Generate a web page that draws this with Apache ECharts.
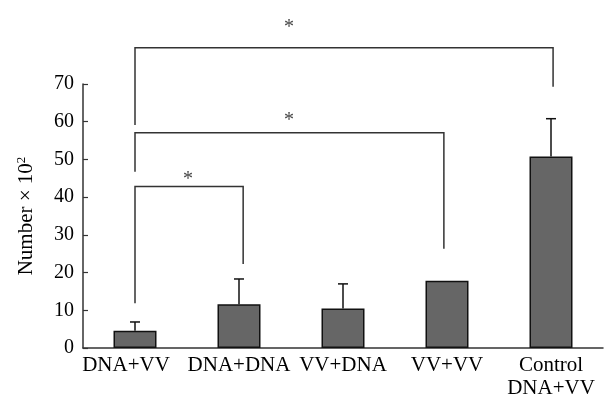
<!DOCTYPE html>
<html>
<head>
<meta charset="utf-8">
<script src="https://cdn.jsdelivr.net/npm/echarts@6/dist/echarts.min.js"></script>
<style>html,body{margin:0;padding:0;background:#fff;}#c{width:611px;height:398px;}</style>
</head>
<body>
<div id="c"></div>
<script>
var categories = ['DNA+VV', 'DNA+DNA', 'VV+DNA', 'VV+VV', 'Control\nDNA+VV'];
var means = [4.6, 11.6, 10.5, 17.8, 50.8];
var errUpper = [6.9, 18.3, 17.0, null, 60.8];
var yTicks = [0, 10, 20, 30, 40, 50, 60, 70];
// brackets: [xLeft, xRight, yTop, yLeftBottom, yRightBottom] (category units / value units)
var bracketA = [0, 1.04, 42.8, 11.85, 22.3];
var bracketB = [0, 2.97, 57.1, 46.7, 26.3];
var bracketC = [0, 4.02, 79.6, 59.1, 69.3];
// stars: [x, y]
var starA = [0.51, 44.6];
var starB = [1.48, 60.2];
var starC = [1.48, 84.8];

var FONT = '"Liberation Serif", "Times New Roman", serif';
var chart = echarts.init(document.getElementById('c'));

var errData = [];
for (var i = 0; i < categories.length; i++) {
  if (errUpper[i] != null) errData.push([i, means[i], errUpper[i]]);
}

chart.setOption({
  animation: false,
  grid: { left: 83, right: 8, top: 84, bottom: 50, containLabel: false, outerBoundsMode: 'none' },
  xAxis: [{
    type: 'category',
    data: categories,
    axisLine: { lineStyle: { color: '#333', width: 1.5 } },
    axisTick: { inside: true, length: 5, lineStyle: { color: '#333', width: 1.2 } },
    axisLabel: {
      interval: 0, color: '#000', fontFamily: FONT, fontSize: 21, margin: 6, lineHeight: 23,
      formatter: function (v, i) { return i === 0 ? '{o|' + v + '}' : v; },
      rich: { o: { fontFamily: FONT, fontSize: 21, color: '#000', lineHeight: 23, padding: [0, 18, 0, 0] } }
    }
  }, {
    type: 'value', min: -0.5, max: 4.5, show: false
  }],
  yAxis: {
    type: 'value', min: 0, max: 70, interval: 10,
    splitLine: { show: false },
    axisLine: { show: true, onZero: false, lineStyle: { color: '#333', width: 1.5 } },
    axisTick: { show: true, inside: true, length: 5, lineStyle: { color: '#333', width: 1.2 } },
    axisLabel: { color: '#000', fontFamily: FONT, fontSize: 20, margin: 9 },
    name: '{a|Number × 10}{s|2}',
    nameLocation: 'middle',
    nameGap: 46,
    nameRotate: 90,
    nameTextStyle: {
      rich: {
        a: { fontFamily: FONT, fontSize: 21, color: '#000' },
        s: { fontFamily: FONT, fontSize: 13, color: '#000', verticalAlign: 'top', padding: [0, 0, 9, 0] }
      }
    }
  },
  series: [{
    type: 'bar',
    data: means,
    barWidth: 43,
    itemStyle: { color: '#666666', borderColor: '#111', borderWidth: 1.5 }
  }, {
    type: 'custom',
    data: errData,
    z: 1,
    renderItem: function (params, api) {
      var lo = api.coord([api.value(0), api.value(1)]);
      var hi = api.coord([api.value(0), api.value(2)]);
      var style = { stroke: '#111', lineWidth: 1.5 };
      return {
        type: 'group',
        children: [
          { type: 'line', shape: { x1: lo[0], y1: lo[1], x2: hi[0], y2: hi[1] }, style: style },
          { type: 'line', shape: { x1: hi[0] - 5, y1: hi[1], x2: hi[0] + 5, y2: hi[1] }, style: style }
        ]
      };
    }
  }, {
    type: 'custom',
    xAxisIndex: 1,
    clip: false,
    data: [bracketA, bracketB, bracketC],
    renderItem: function (params, api) {
      var p1 = api.coord([api.value(0), api.value(3)]);
      var p2 = api.coord([api.value(0), api.value(2)]);
      var p3 = api.coord([api.value(1), api.value(2)]);
      var p4 = api.coord([api.value(1), api.value(4)]);
      return {
        type: 'polyline',
        shape: { points: [p1, p2, p3, p4] },
        style: { stroke: '#333', lineWidth: 1.5, fill: null }
      };
    }
  }, {
    type: 'custom',
    xAxisIndex: 1,
    clip: false,
    data: [starA, starB, starC],
    renderItem: function (params, api) {
      var p = api.coord([api.value(0), api.value(1)]);
      return {
        type: 'text',
        x: p[0], y: p[1],
        style: { text: '*', fontFamily: FONT, fontSize: 20, fill: '#444', align: 'center', verticalAlign: 'middle' }
      };
    }
  }]
});
</script>
</body>
</html>
